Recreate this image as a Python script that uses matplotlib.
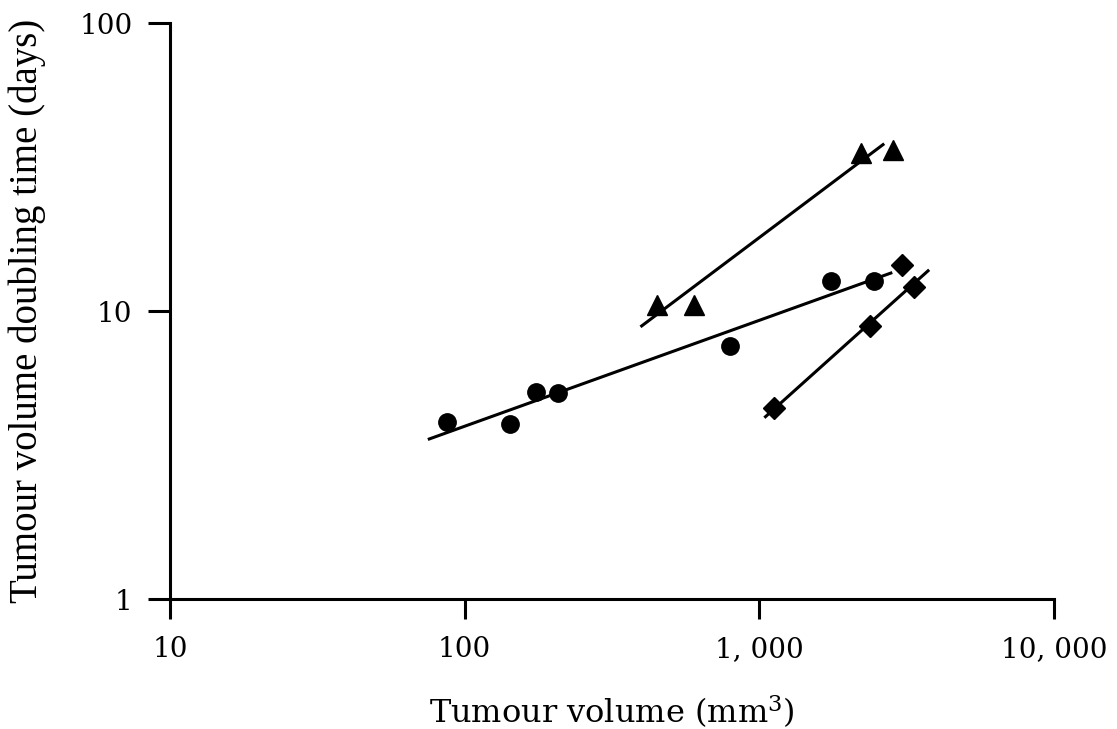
import matplotlib
matplotlib.use("Agg")
import matplotlib.pyplot as plt
from matplotlib.ticker import FixedLocator, FixedFormatter, NullLocator

# Tumour volume (mm^3) and doubling time (days) for three tumour groups
circle_volume = [87, 142, 174, 208, 797, 1755, 2454]
circle_doubling = [4.13, 4.06, 5.24, 5.20, 7.57, 12.7, 12.7]

triangle_volume = [448, 602, 2218, 2845]
triangle_doubling = [10.5, 10.5, 35.5, 36.1]

diamond_volume = [1124, 2378, 3053, 3352]
diamond_doubling = [4.62, 8.87, 14.5, 12.1]

# Regression lines (endpoints on log-log axes)
circle_fit_volume = [75, 2826]
circle_fit_doubling = [3.58, 13.6]
triangle_fit_volume = [395, 2654]
triangle_fit_doubling = [8.81, 38.1]
diamond_fit_volume = [1040, 3770]
diamond_fit_doubling = [4.26, 13.9]

x_ticks = [10, 100, 1000, 10000]
x_tick_labels = ["10", "100", "1, 000", "10, 000"]
y_ticks = [1, 10, 100]
y_tick_labels = ["1", "10", "100"]

fig = plt.figure(figsize=(11.17, 7.29), dpi=100)
ax = fig.add_axes([170 / 1117, 1 - 599 / 729, 884 / 1117, 576 / 729])
ax.set_xscale("log")
ax.set_yscale("log")
ax.set_xlim(10, 10000)
ax.set_ylim(1, 100)

lw = 2.2
for xs, ys in ((circle_fit_volume, circle_fit_doubling),
               (triangle_fit_volume, triangle_fit_doubling),
               (diamond_fit_volume, diamond_fit_doubling)):
    ax.plot(xs, ys, color="black", lw=lw, solid_capstyle="butt")

ax.plot(circle_volume, circle_doubling, "o", color="black", ms=12.5, ls="none")
ax.plot(triangle_volume, triangle_doubling, "^", color="black", ms=14, ls="none")
ax.plot(diamond_volume, diamond_doubling, "D", color="black", ms=11, ls="none")

for side in ("top", "right"):
    ax.spines[side].set_visible(False)
for side in ("left", "bottom"):
    ax.spines[side].set_linewidth(2.2)

ax.xaxis.set_major_locator(FixedLocator(x_ticks))
ax.xaxis.set_major_formatter(FixedFormatter(x_tick_labels))
ax.xaxis.set_minor_locator(NullLocator())
ax.yaxis.set_major_locator(FixedLocator(y_ticks))
ax.yaxis.set_major_formatter(FixedFormatter(y_tick_labels))
ax.yaxis.set_minor_locator(NullLocator())

ax.tick_params(axis="x", direction="out", length=14.5, width=2.2, pad=12)
ax.tick_params(axis="y", direction="out", length=16, width=2.2, pad=11)
for lab in ax.get_xticklabels() + ax.get_yticklabels():
    lab.set_fontfamily("DejaVu Serif")
    lab.set_fontsize(20)

ax.set_xlabel("Tumour volume (mm$^3$)", fontfamily="DejaVu Serif", fontsize=23, labelpad=22)
ax.xaxis.label.set_math_fontfamily("dejavuserif")
ax.set_ylabel("Tumour volume doubling time (days)", fontfamily="Liberation Serif",
              fontsize=28, labelpad=24)

fig.savefig("out.png", dpi=100, facecolor="white")
